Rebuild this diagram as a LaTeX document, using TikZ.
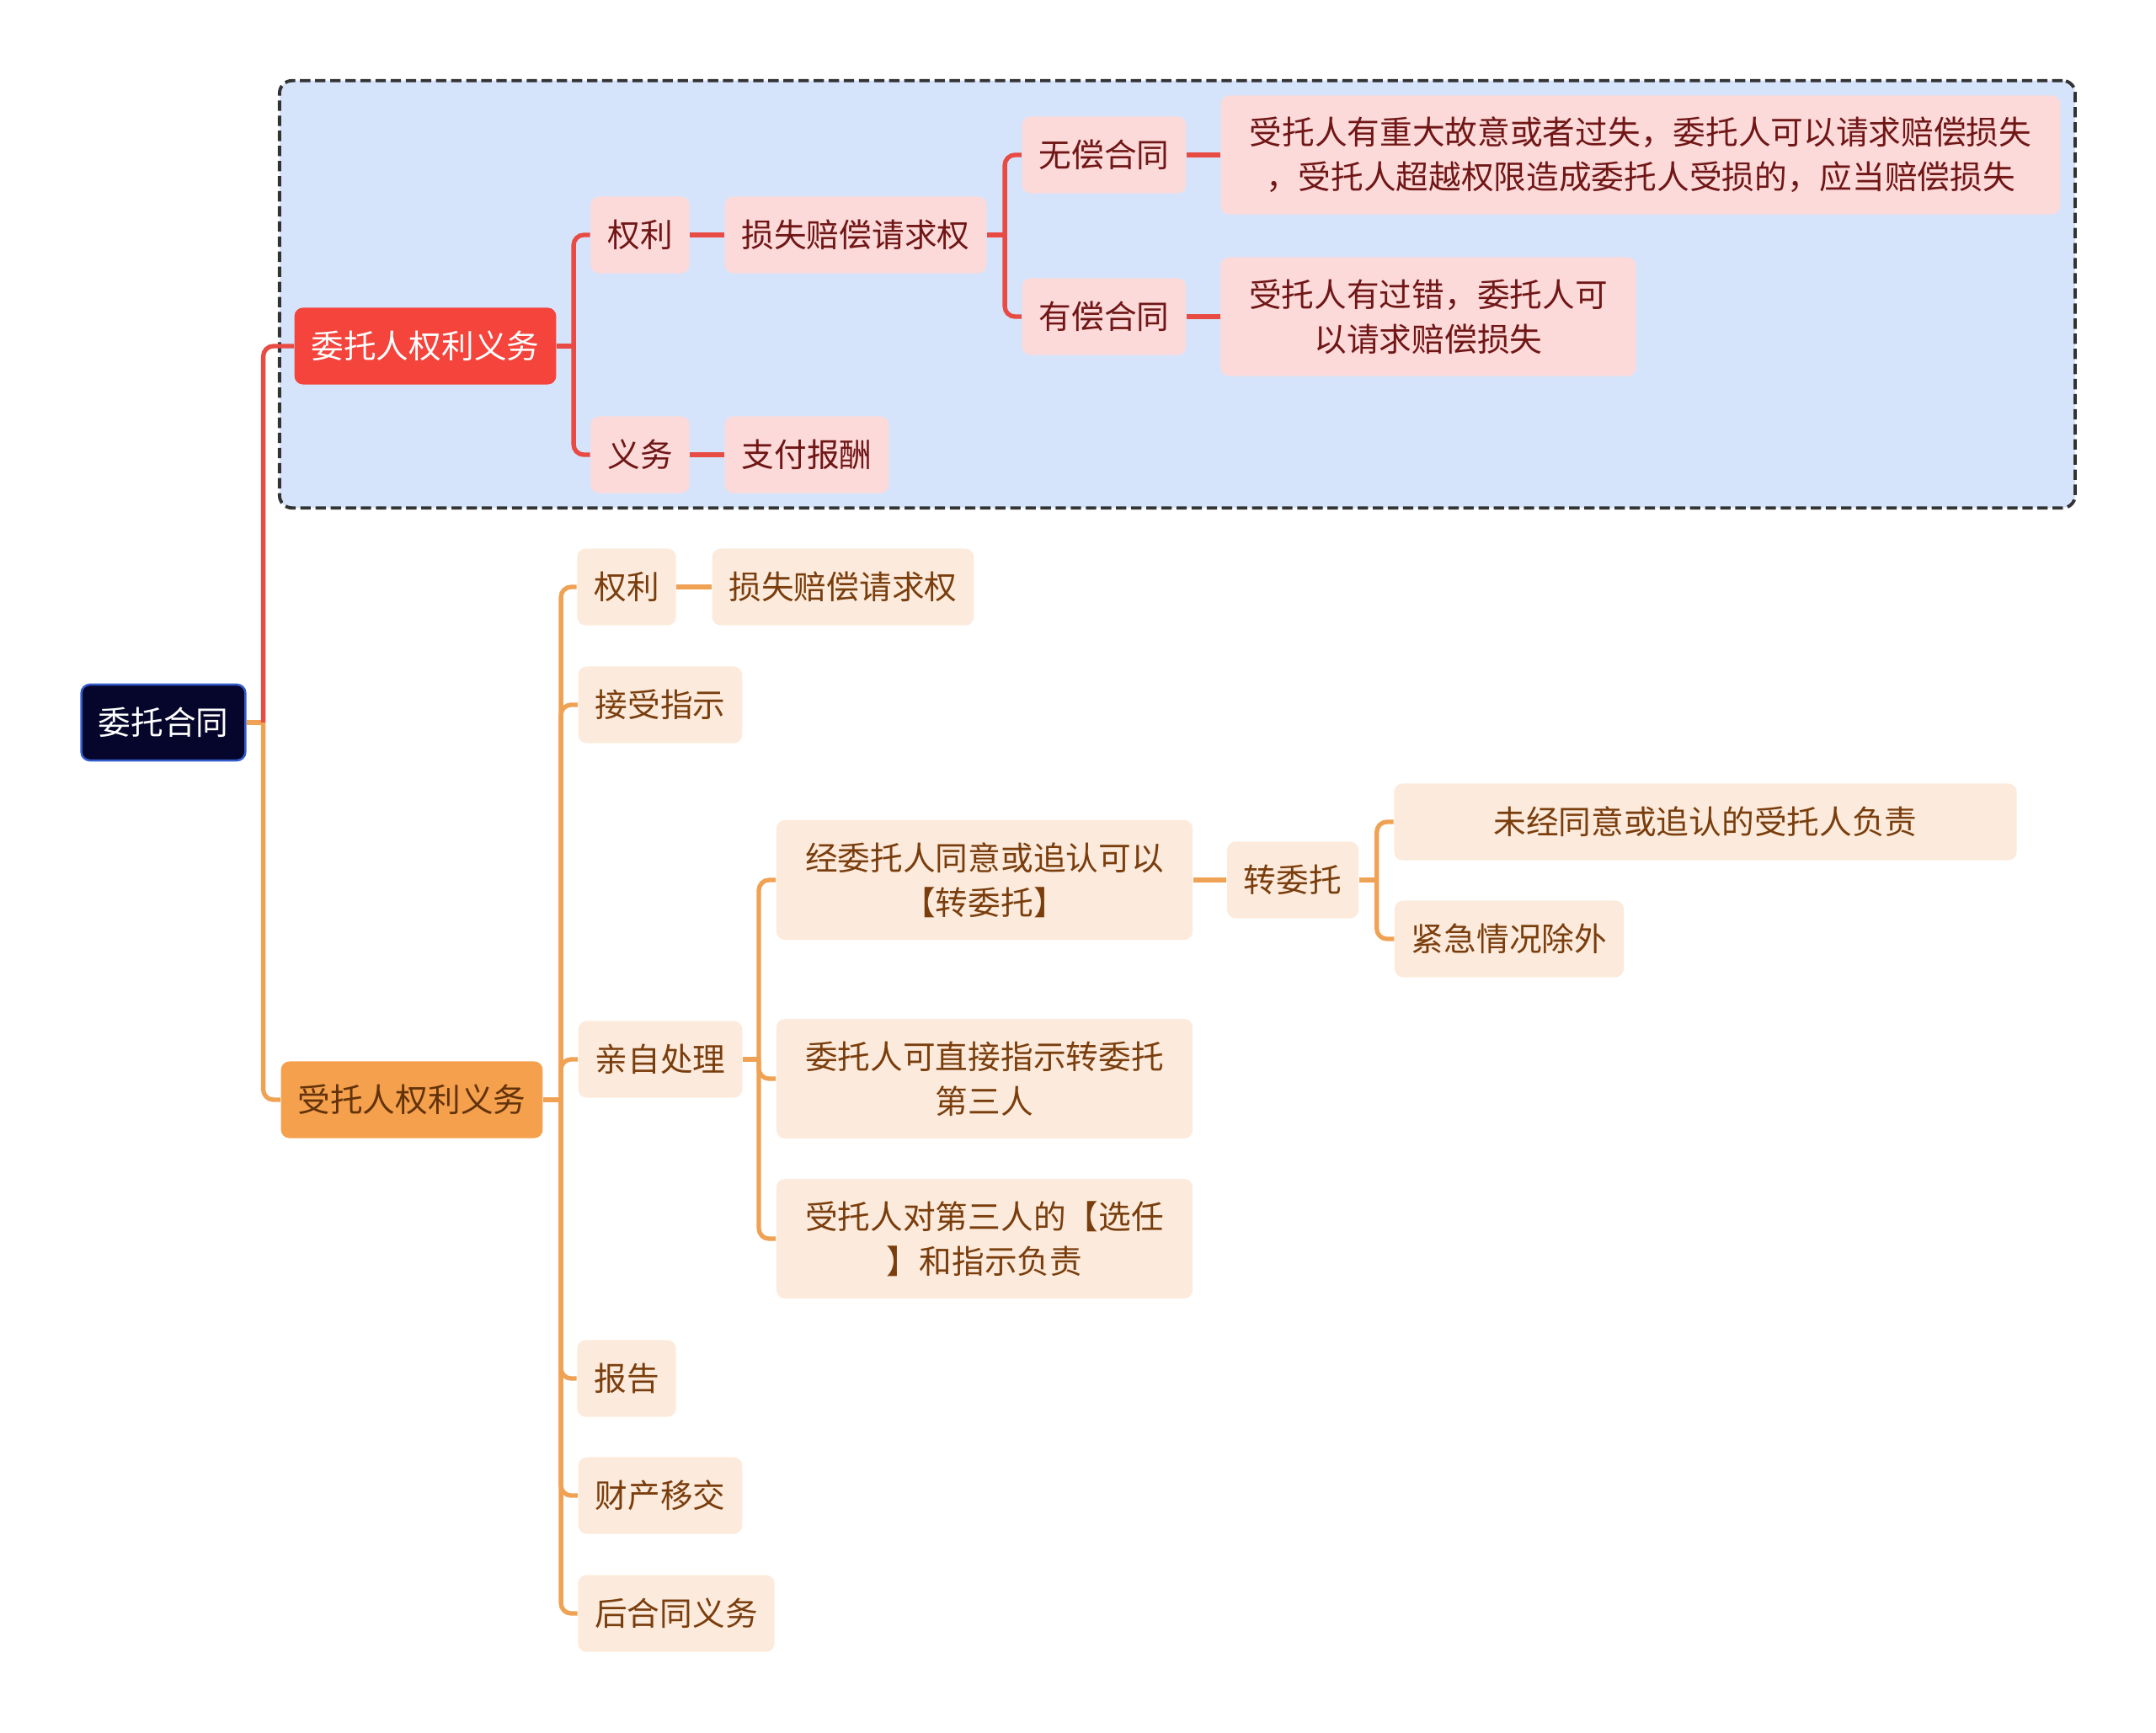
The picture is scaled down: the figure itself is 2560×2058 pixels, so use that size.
\documentclass[tikz,border=0pt]{standalone}
\usepackage{fontspec}
\setmainfont{Noto Sans CJK SC}
\usepackage{tikz}
\usetikzlibrary{positioning, fit, backgrounds}
\definecolor{RootNavy}{RGB}{6,6,44}
\definecolor{RootBlue}{RGB}{52,92,205}
\definecolor{MainRed}{RGB}{244,68,60}
\definecolor{LinkRed}{RGB}{232,74,68}
\definecolor{LeafPink}{RGB}{252,218,218}
\definecolor{PinkText}{RGB}{112,22,22}
\definecolor{GroupBlue}{RGB}{214,228,251}
\definecolor{MainOrange}{RGB}{244,160,76}
\definecolor{LinkOrange}{RGB}{240,162,84}
\definecolor{LeafCream}{RGB}{252,235,220}
\definecolor{CreamText}{RGB}{122,62,14}
\tikzstyle{mapfont} = [font=\fontsize{11pt}{15pt}\selectfont]
\tikzstyle{rootnode} = [
  rectangle, rounded corners=0.1cm, draw=RootBlue, fill=RootNavy, text=white,
  line width=0.7pt, minimum height=0.9cm, inner xsep=0.2cm, mapfont
]
\tikzstyle{redmain} = [
  rectangle, rounded corners=0.1cm, fill=MainRed, text=white,
  minimum height=0.91cm, inner xsep=0.2cm, mapfont
]
\tikzstyle{pinkleaf} = [
  rectangle, rounded corners=0.1cm, fill=LeafPink, text=PinkText,
  minimum height=0.91cm, inner xsep=0.2cm, align=center, mapfont
]
\tikzstyle{orangemain} = [
  rectangle, rounded corners=0.1cm, fill=MainOrange, text=CreamText!80!black,
  minimum height=0.91cm, inner xsep=0.2cm, mapfont
]
\tikzstyle{creamleaf} = [
  rectangle, rounded corners=0.1cm, fill=LeafCream, text=CreamText,
  minimum height=0.91cm, inner xsep=0.2cm, align=center, mapfont
]
\tikzstyle{groupbox} = [
  rectangle, rounded corners=0.15cm, draw=black!80, fill=GroupBlue,
  line width=1.1pt, dash pattern=on 3.5pt off 1.6pt, inner sep=0.17cm
]
\tikzstyle{redlink} = [LinkRed, line width=1.5pt, rounded corners=0.12cm]
\tikzstyle{orangelink} = [LinkOrange, line width=1.5pt, rounded corners=0.12cm]

\begin{document}
\begin{tikzpicture}[x=0.01cm, y=-0.01cm]
  \useasboundingbox (0,0) rectangle (2560,2058);

  % Root
  \node[rootnode] (root) at (194, 858) {委托合同};

  % Mandator side
  \node[redmain] (wtr) at (505, 411) {委托人权利义务};
  \node[pinkleaf] (ql1) at (760, 279) {权利};
  \node[pinkleaf] (pc1) at (1016, 279) {损失赔偿请求权};
  \node[pinkleaf] (yw1) at (760, 540) {义务};
  \node[pinkleaf] (zf) at (958, 540) {支付报酬};
  \node[pinkleaf] (wc) at (1311, 184) {无偿合同};
  \node[pinkleaf, minimum width=9.96cm, minimum height=1.41cm] (wcText) at (1948, 184)
    {受托人有重大故意或者过失，委托人可以请求赔偿损失\\，受托人超越权限造成委托人受损的，应当赔偿损失};
  \node[pinkleaf] (yc) at (1311, 376) {有偿合同};
  \node[pinkleaf, minimum width=4.93cm, minimum height=1.41cm] (ycText) at (1696, 376)
    {受托人有过错，委托人可\\以请求赔偿损失};

  \begin{scope}[on background layer]
    \node[groupbox, fit=(wtr)(ql1)(yw1)(wcText)] (redgroup) {};
  \end{scope}

  % Agent side
  \node[orangemain] (str) at (489, 1306) {受托人权利义务};
  \node[creamleaf] (ql2) at (744, 697) {权利};
  \node[creamleaf] (pc2) at (1001, 697) {损失赔偿请求权};
  \node[creamleaf] (js) at (784, 837) {接受指示};
  \node[creamleaf] (qz) at (784, 1258) {亲自处理};
  \node[creamleaf, minimum width=4.94cm, minimum height=1.42cm] (zw1) at (1169, 1045)
    {经委托人同意或追认可以\\【转委托】};
  \node[creamleaf, minimum width=4.94cm, minimum height=1.42cm] (zw2) at (1169, 1281)
    {委托人可直接指示转委托\\第三人};
  \node[creamleaf, minimum width=4.94cm, minimum height=1.42cm] (zw3) at (1169, 1471)
    {受托人对第三人的【选任\\】和指示负责};
  \node[creamleaf] (zwt) at (1535, 1045) {转委托};
  \node[creamleaf, minimum width=7.39cm] (wj) at (2025, 976) {未经同意或追认的受托人负责};
  \node[creamleaf] (jj) at (1792, 1115) {紧急情况除外};
  \node[creamleaf] (bg) at (744, 1637) {报告};
  \node[creamleaf] (cc) at (784, 1776) {财产移交};
  \node[creamleaf] (hh) at (803, 1916) {后合同义务};

  % Branch points
  \coordinate[right=0.2cm of root] (rootS);
  \coordinate[right=0.2cm of wtr] (wtrS);
  \coordinate[right=0.21cm of pc1] (pc1S);
  \coordinate[right=0.21cm of str] (strS);
  \coordinate[right=0.19cm of qz] (qzS);
  \coordinate[right=0.21cm of zwt] (zwtS);

  % Root links
  \draw[orangelink] (root) -- (rootS);
  \draw[redlink] (rootS) |- (wtr.west);
  \draw[orangelink] (rootS) |- (str.west);

  % Red links
  \draw[redlink] (wtr) -- (wtrS);
  \foreach \kid in {ql1, yw1}
    \draw[redlink] (wtrS) |- (\kid.west);
  \draw[redlink] (ql1) -- (pc1);
  \draw[redlink] (yw1) -- (zf);
  \draw[redlink] (pc1) -- (pc1S);
  \foreach \kid in {wc, yc}
    \draw[redlink] (pc1S) |- (\kid.west);
  \draw[redlink] (wc) -- (wcText);
  \draw[redlink] (yc) -- (ycText);

  % Orange links
  \draw[orangelink] (str) -- (strS);
  \foreach \kid in {ql2, js, qz, bg, cc, hh}
    \draw[orangelink] (strS) |- (\kid.west);
  \draw[orangelink] (ql2) -- (pc2);
  \draw[orangelink] (qz) -- (qzS);
  \foreach \kid in {zw1, zw2, zw3}
    \draw[orangelink] (qzS) |- (\kid.west);
  \draw[orangelink] (zw1) -- (zwt);
  \draw[orangelink] (zwt) -- (zwtS);
  \foreach \kid in {wj, jj}
    \draw[orangelink] (zwtS) |- (\kid.west);

\end{tikzpicture}
\end{document}
